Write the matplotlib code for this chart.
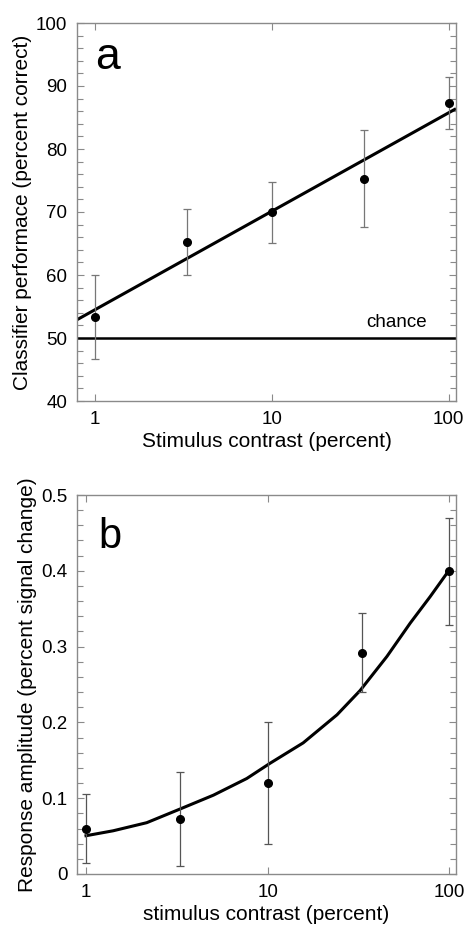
import matplotlib
matplotlib.use("Agg")
import matplotlib.pyplot as plt
from matplotlib.ticker import FixedLocator, MultipleLocator, NullLocator, FixedFormatter

plt.rcParams['font.family'] = ['Liberation Sans', 'DejaVu Sans']

# Panel a data
a_x = [1, 3.3, 10, 33, 100]
a_y = [53.3, 65.3, 70.0, 75.3, 87.3]
a_lo = [46.6, 60.0, 65.1, 67.6, 83.1]
a_hi = [60.0, 70.5, 74.8, 83.0, 91.4]
a_fit_x = [0.79, 110]
a_fit_y = [52.9, 86.4]
chance = 50

# Panel b data
b_x = [1, 3.3, 10, 33, 100]
b_y = [0.059, 0.073, 0.120, 0.292, 0.400]
b_lo = [0.014, 0.011, 0.040, 0.240, 0.329]
b_hi = [0.105, 0.134, 0.200, 0.344, 0.470]
b_fit_x = [1, 1.41, 2.16, 3.3, 5.03, 7.68, 10.3, 15.7, 24.1, 32.3, 45.4, 61, 78.6, 100]
b_fit_y = [0.0505, 0.057, 0.0677, 0.0858, 0.104, 0.126, 0.146, 0.173, 0.210, 0.242,
           0.287, 0.331, 0.366, 0.401]

W, H = 466, 935
fig = plt.figure(figsize=(W/100, H/100), dpi=100)

spine_col = '#8a8a8a'

def style(ax):
    for s in ax.spines.values():
        s.set_color(spine_col)
        s.set_linewidth(1.0)
    ax.tick_params(which='both', direction='in', top=True, right=True,
                   color=spine_col, labelsize=13.5, pad=7)
    ax.tick_params(which='major', length=5, width=0.8)
    ax.tick_params(which='minor', length=4, width=0.8)
    ax.set_xscale('log')
    ax.xaxis.set_major_locator(FixedLocator([1, 10, 100]))
    ax.xaxis.set_major_formatter(FixedFormatter(['1', '10', '100']))
    ax.xaxis.set_minor_locator(NullLocator())

# Panel a
axa = fig.add_axes([77/W, 1-401/H, 379/W, 378/H])
style(axa)
axa.set_xlim(0.79, 110)
axa.set_ylim(40, 100)
axa.yaxis.set_major_locator(MultipleLocator(10))
axa.yaxis.set_minor_locator(MultipleLocator(2))
axa.plot(a_fit_x, a_fit_y, color='black', lw=2.2, solid_capstyle='butt')
axa.axhline(chance, color='black', lw=1.8)
yerr_a = [[y - l for y, l in zip(a_y, a_lo)], [h - y for y, h in zip(a_y, a_hi)]]
axa.errorbar(a_x, a_y, yerr=yerr_a, fmt='none', ecolor='#777777', elinewidth=0.9,
             capsize=3, capthick=0.9)
axa.plot(a_x, a_y, 'o', color='black', ms=5.5)
axa.text(51, 52.5, 'chance', fontsize=13.5, ha='center', va='center')
axa.text(1.0, 94.6, 'a', fontsize=32, ha='left', va='center')
axa.set_xlabel('Stimulus contrast (percent)', fontsize=15, labelpad=3)
axa.set_ylabel('Classifier performace (percent correct)', fontsize=15, labelpad=3)

# Panel b
axb = fig.add_axes([77/W, 1-874/H, 379/W, 379/H])
style(axb)
axb.set_xlim(0.892, 109)
axb.set_ylim(0, 0.5)
axb.yaxis.set_major_locator(FixedLocator([0, 0.1, 0.2, 0.3, 0.4, 0.5]))
axb.yaxis.set_major_formatter(FixedFormatter(['0', '0.1', '0.2', '0.3', '0.4', '0.5']))
axb.yaxis.set_minor_locator(MultipleLocator(0.02))
axb.plot(b_fit_x, b_fit_y, color='black', lw=2.2, solid_joinstyle='round')
yerr_b = [[y - l for y, l in zip(b_y, b_lo)], [h - y for y, h in zip(b_y, b_hi)]]
axb.errorbar(b_x, b_y, yerr=yerr_b, fmt='none', ecolor='#555555', elinewidth=0.9,
             capsize=3, capthick=0.9)
axb.plot(b_x, b_y, 'o', color='black', ms=5.5)
axb.text(1.17, 0.445, 'b', fontsize=30, ha='left', va='center')
axb.set_xlabel('stimulus contrast (percent)', fontsize=15, labelpad=3)
axb.set_ylabel('Response amplitude (percent signal change)', fontsize=15, labelpad=3)

fig.savefig('out.png', dpi=100)
